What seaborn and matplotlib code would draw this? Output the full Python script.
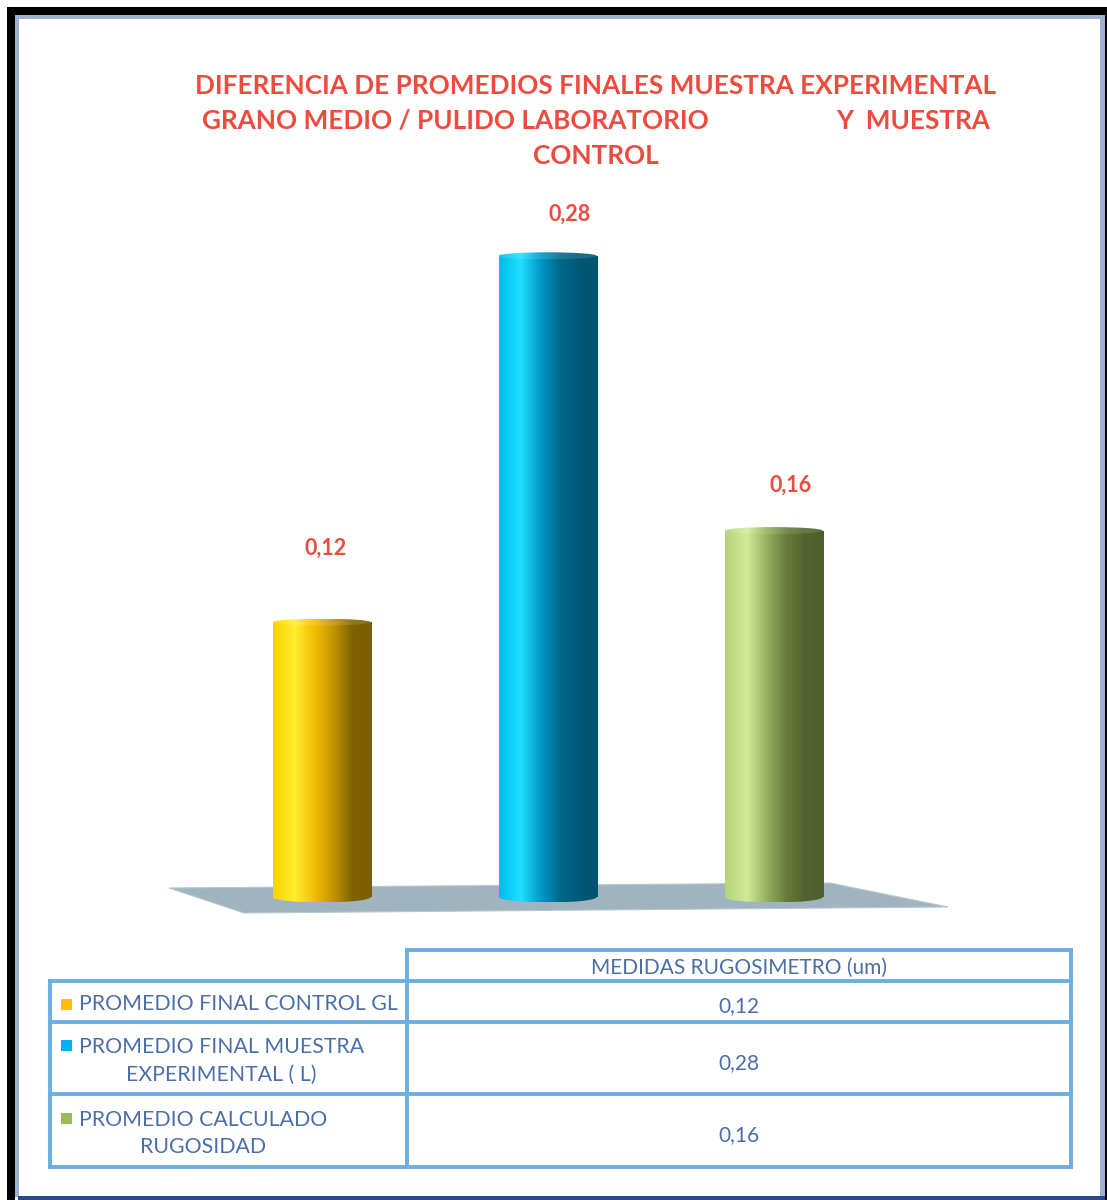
import numpy as np
import matplotlib
matplotlib.use("Agg")
import matplotlib.pyplot as plt
from matplotlib.colors import LinearSegmentedColormap, to_rgb
from matplotlib.patches import Rectangle, Ellipse, Polygon
import seaborn as sns

# ---- data ----
CATEGORIES = ["PROMEDIO FINAL CONTROL GL",
              "PROMEDIO FINAL MUESTRA EXPERIMENTAL ( L)",
              "PROMEDIO CALCULADO RUGOSIDAD"]
ROW_LABELS = ["PROMEDIO FINAL CONTROL GL",
              "PROMEDIO FINAL MUESTRA\nEXPERIMENTAL ( L)",
              "PROMEDIO CALCULADO\nRUGOSIDAD"]
VALUES = [0.12, 0.28, 0.16]
TABLE_HEADER = "MEDIDAS RUGOSIMETRO (um)"
TITLE_LINES = ["DIFERENCIA DE PROMEDIOS FINALES MUESTRA EXPERIMENTAL",
               "GRANO MEDIO / PULIDO LABORATORIO",
               "Y  MUESTRA",
               "CONTROL"]

BASE_COLORS = ["#FFC000", "#00B0F0", "#9BBB59"]
# cylinder shading stops (left -> right)
SHADES = [
    ["#F8D200", "#FFEC30", "#F2BE00", "#C09200", "#806400", "#7A5E00"],
    ["#00BCEC", "#1EE0FF", "#0098C8", "#006888", "#005A78", "#005470"],
    ["#B5D47A", "#D2EA98", "#98B060", "#667C3C", "#54642F", "#4E5E2C"],
]
STOPS = [0.0, 0.22, 0.42, 0.62, 0.8, 1.0]

TITLE_RED = "#EF4A3E"
TABLE_BLUE = "#4A6EA8"
LINE_BLUE = "#6AAFE2"

W, H = 1107, 1200
sns.set_theme(style="white")
plt.rcParams["font.family"] = ["Lato", "DejaVu Sans"]

fig = plt.figure(figsize=(W / 100, H / 100), dpi=100)
fig.patch.set_facecolor("white")

# background axes in pixel coordinates: frame, title, floor, table
bg = fig.add_axes([0, 0, 1, 1], zorder=0)
bg.set_xlim(0, W)
bg.set_ylim(H, 0)
bg.axis("off")

# outer frame
bg.add_patch(Rectangle((7, 7), W - 7, 8, color="black", lw=0))
bg.add_patch(Rectangle((7, 7), 8, H - 7, color="black", lw=0))
bg.add_patch(Rectangle((1105, 7), 2, H - 7, color="black", lw=0))
bg.add_patch(Rectangle((15, 15), 1090, 4, color="#9FB1D3", lw=0))
bg.add_patch(Rectangle((15, 15), 4, 1182, color="#9FB1D3", lw=0))
bg.add_patch(Rectangle((1100, 15), 5, 1182, color="#9FB1D3", lw=0))
bg.add_patch(Rectangle((18, 1196), 1087, 4, color="#2B4A8A", lw=0))

# title
tkw = dict(color=TITLE_RED, fontsize=18.8, fontweight="bold", va="center")
bg.text(596, 86, TITLE_LINES[0], ha="center", **tkw)
bg.text(202, 121, TITLE_LINES[1], ha="left", **tkw)
bg.text(990, 121, TITLE_LINES[2], ha="right", **tkw)
bg.text(596, 156, TITLE_LINES[3], ha="center", **tkw)

# floor of the 3-D plot area
bg.add_patch(Polygon([(169, 888), (244, 913), (948, 907), (830, 883)],
                     closed=True, facecolor="#9FB4BE", edgecolor="#B7C7CE",
                     lw=0.8, zorder=1))

# ---- bars ----
Y0_PX, SCALE = 897.0, 2290.0          # pixel of value 0, pixels per unit
X0_PX, STEP = 321.67, 226.0           # pixel of first category, spacing
ax_l, ax_r, ax_t, ax_b = 150, 960, 190, 915
ax = fig.add_axes([ax_l / W, (H - ax_b) / H, (ax_r - ax_l) / W, (ax_b - ax_t) / H],
                  zorder=2)
ax.patch.set_alpha(0)

sns.barplot(x=list(range(len(VALUES))), y=VALUES, hue=list(range(len(VALUES))),
            palette=BASE_COLORS, legend=False, width=0.434, saturation=1,
            ax=ax)

xlim = ((ax_l - X0_PX) / STEP, (ax_r - X0_PX) / STEP)
ylim = ((Y0_PX - ax_b) / SCALE, (Y0_PX - ax_t) / SCALE)
eh_bot = 11.0 / SCALE   # ellipse height of the rounded base
eh_top = 7.0 / SCALE    # ellipse height of the top cap
grad = np.linspace(0, 1, 256)[None, :]

LABEL_OFFSETS = [(3, 53), (16, 30), (12, 33)]

for i, patch in enumerate(ax.patches):
    x0 = patch.get_x()
    w = patch.get_width()
    h = patch.get_height()
    cx = x0 + w / 2
    patch.set_facecolor("none")
    patch.set_edgecolor("none")
    cmap = LinearSegmentedColormap.from_list(f"cyl{i}", list(zip(STOPS, SHADES[i])))
    body = ax.imshow(grad, cmap=cmap, extent=(x0, x0 + w, 0, h),
                     aspect="auto", zorder=3, interpolation="bilinear")
    body.set_clip_path(patch)
    # rounded bottom
    bot = Ellipse((cx, 0), w, eh_bot, facecolor="none", edgecolor="none")
    ax.add_patch(bot)
    bim = ax.imshow(grad, cmap=cmap, extent=(x0, x0 + w, -eh_bot / 2, eh_bot / 2),
                    aspect="auto", zorder=3, interpolation="bilinear")
    bim.set_clip_path(bot)
    # top cap, only slightly lighter than the body
    light = [tuple(0.88 * np.array(to_rgb(c)) + 0.12) for c in SHADES[i]]
    cmap_t = LinearSegmentedColormap.from_list(f"cap{i}", list(zip(STOPS, light)))
    top = Ellipse((cx, h), w, eh_top, facecolor="none", edgecolor="none")
    ax.add_patch(top)
    tim = ax.imshow(grad, cmap=cmap_t,
                    extent=(x0, x0 + w, h - eh_top / 2, h + eh_top / 2),
                    aspect="auto", zorder=4, interpolation="bilinear")
    tim.set_clip_path(top)
    ax.annotate(f"{VALUES[i]:.2f}".replace(".", ","), xy=(cx, h),
                xytext=LABEL_OFFSETS[i], textcoords="offset points",
                ha="center", va="center", color=TITLE_RED,
                fontsize=15.5, fontweight="bold", zorder=5)

ax.set_xlim(*xlim)
ax.set_ylim(*ylim)
ax.axis("off")

# ---- data table ----
lkw = dict(color=LINE_BLUE, lw=2.8, solid_capstyle="projecting")
left, mid, right = 50, 407, 1071
rows = [950, 981, 1022, 1094, 1167]
bg.plot([mid, right], [rows[0], rows[0]], **lkw)
for y in rows[1:]:
    bg.plot([left, right], [y, y], **lkw)
bg.plot([left, left], [rows[1], rows[-1]], **lkw)
bg.plot([mid, mid], [rows[0], rows[-1]], **lkw)
bg.plot([right, right], [rows[0], rows[-1]], **lkw)

bg.text((mid + right) / 2, (rows[0] + rows[1]) / 2 + 2, TABLE_HEADER,
        ha="center", va="center", color=TABLE_BLUE, fontsize=15)
for i, (lab, val) in enumerate(zip(ROW_LABELS, VALUES)):
    yc = (rows[i + 1] + rows[i + 2]) / 2 + 3
    bg.text(79, yc, lab, ha="left", va="center", multialignment="center",
            color=TABLE_BLUE, fontsize=15.3, linespacing=1.45)
    nlines = lab.count("\n") + 1
    first = yc - (nlines - 1) * 15
    bg.add_patch(Rectangle((61, first - 6), 11, 11, color=BASE_COLORS[i], lw=0))
    bg.text((mid + right) / 2, yc + 2, f"{val:.2f}".replace(".", ","),
            ha="center", va="center", color=TABLE_BLUE, fontsize=15)

fig.savefig("out.png", dpi=100, facecolor="white")
